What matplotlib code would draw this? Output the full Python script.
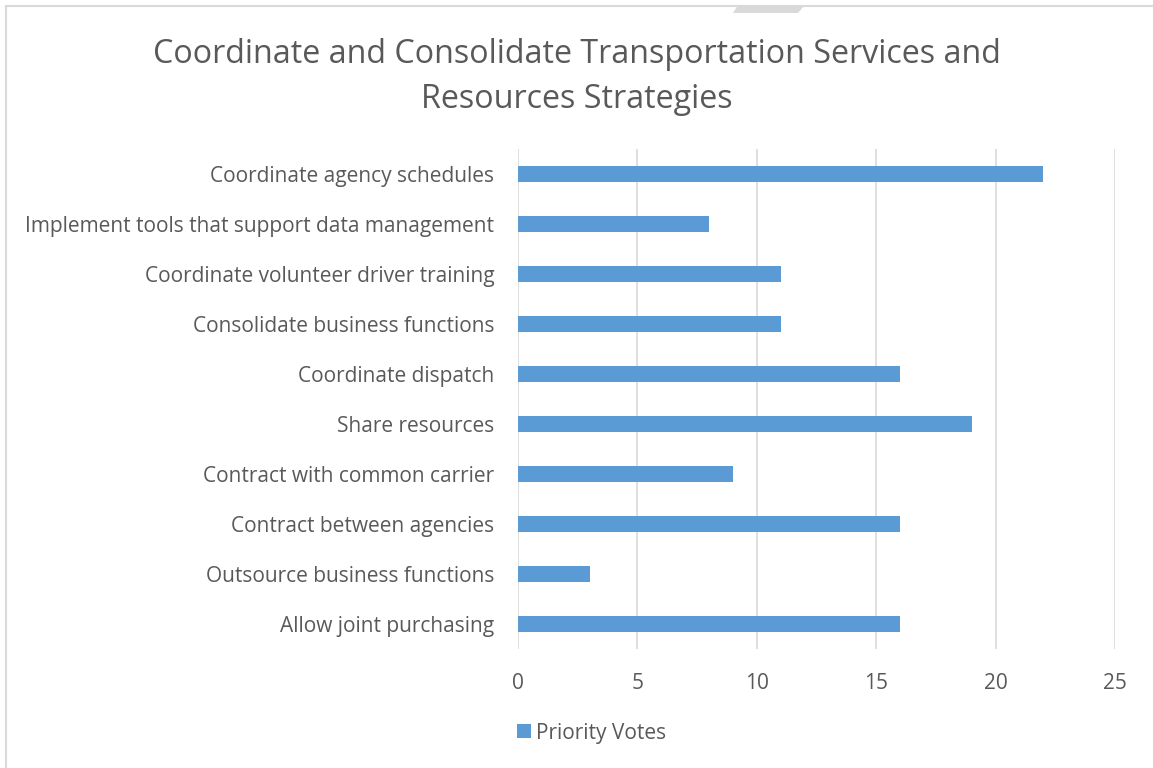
import matplotlib
matplotlib.use("Agg")
import matplotlib.pyplot as plt
from matplotlib.lines import Line2D
from matplotlib.patches import Polygon

categories = [
    "Allow joint purchasing",
    "Outsource business functions",
    "Contract between agencies",
    "Contract with common carrier",
    "Share resources",
    "Coordinate dispatch",
    "Consolidate business functions",
    "Coordinate volunteer driver training",
    "Implement tools that support data management",
    "Coordinate agency schedules",
]
votes = [16, 3, 16, 9, 19, 16, 11, 11, 8, 22]
xticks = [0, 5, 10, 15, 20, 25]

bar_color = "#5B9BD5"
text_color = "#595959"
grid_color = "#D9D9D9"

plt.rcParams['font.family'] = ['Open Sans', 'DejaVu Sans']

fig = plt.figure(figsize=(11.53, 7.68), dpi=100)
W, H = 1153, 768

# chart frame: only top and left edges are visible in the crop
fig.lines.append(Line2D([6 / W, 6 / W], [0, 1 - 5.5 / H], transform=fig.transFigure,
                        color="#D9D9D9", linewidth=1.5))
fig.lines.append(Line2D([6 / W, 1], [1 - 5.5 / H, 1 - 5.5 / H], transform=fig.transFigure,
                        color="#D9D9D9", linewidth=1.5))
fig.patches.append(Polygon([(738 / W, 1 - 5 / H), (805 / W, 1 - 5 / H),
                            (798 / W, 1 - 13 / H), (733 / W, 1 - 13 / H)],
                           closed=True, transform=fig.transFigure,
                           facecolor="#D9D9D9", edgecolor="none"))

ax = fig.add_axes([518 / W, 1 - 649 / H, (1115 - 518) / W, (649 - 149) / H])
y = range(len(categories))
ax.barh(y, votes, height=0.32, color=bar_color, zorder=3, label="Priority Votes")
ax.set_xlim(0, 25)
ax.set_ylim(-0.5, len(categories) - 0.5)
ax.set_xticks(xticks)
ax.set_yticks(list(y))
ax.set_yticklabels(categories)
ax.grid(axis="x", color=grid_color, linewidth=1.2, zorder=0)
for s in ax.spines.values():
    s.set_visible(False)
ax.tick_params(axis="both", length=0, colors=text_color, labelsize=15)
ax.tick_params(axis="x", pad=17)
ax.tick_params(axis="y", pad=17)

fig.text(0.5, 1 - 77 / H, "Coordinate and Consolidate Transportation Services and\nResources Strategies",
         ha="center", va="center", fontsize=23.2, color=text_color, linespacing=1.45)

ax.legend(loc="center left", bbox_to_anchor=(507 / W, 1 - 733 / H), bbox_transform=fig.transFigure,
          frameon=False, fontsize=15, labelcolor=text_color, handlelength=0.65, handleheight=0.65,
          handletextpad=0.25, borderpad=0)

fig.savefig("out.png", dpi=100)
